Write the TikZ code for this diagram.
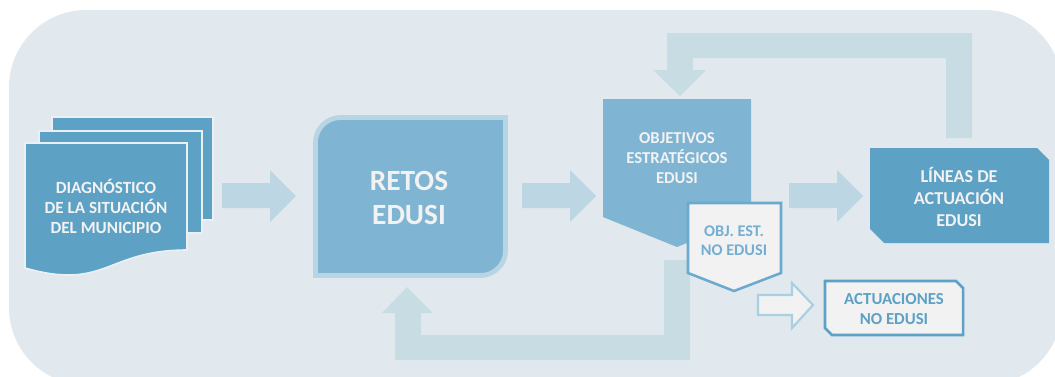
\documentclass[tikz,border=0pt]{standalone}
\usepackage{fontspec}
\setmainfont{Carlito}
\definecolor{bg}{HTML}{E1E9EE}
\definecolor{darkb}{HTML}{5DA1C5}
\definecolor{midb}{HTML}{7FB5D2}
\definecolor{midborder}{HTML}{B8D5E4}
\definecolor{arrowc}{HTML}{BCD6E3}
\definecolor{fbarrow}{HTML}{C8DCE4}
\definecolor{paper}{HTML}{F2F2F2}
\definecolor{txtw}{HTML}{F2F2F2}
\definecolor{lineb}{HTML}{6AAACE}
\definecolor{txtb}{HTML}{74AED2}
\definecolor{whitearrowline}{HTML}{A9CFE2}
\definecolor{sheetline}{HTML}{EAF0F3}
\tikzset{
  lbl/.style={font=\bfseries\fontsize{12.8}{15}\selectfont, text=txtw, align=center, inner sep=0pt},
  biglbl/.style={font=\bfseries\fontsize{22}{26}\selectfont, text=txtw, align=center, inner sep=0pt},
  bluelbl/.style={font=\bfseries\fontsize{12.2}{14}\selectfont, text=txtb, align=center, inner sep=0pt},
  fwd/.style={fill=arrowc},
  feedback/.style={fill=fbarrow},
  sheet/.style={fill=darkb, draw=sheetline, line width=1.2pt},
  whiteshape/.style={fill=paper, draw=lineb, line width=1.9pt, line join=miter},
}
\begin{document}
\begin{tikzpicture}[x=0.75pt,y=-0.75pt]
\useasboundingbox (0,0) rectangle (1055,376);
\fill[white] (0,0) rectangle (1055,376);
\begin{scope}
\clip (0,0) rectangle (1055,376);
\fill[bg, rounded corners=58] (9,10) rectangle (1062,385);
\end{scope}

% feedback arrows
\fill[feedback] (946,138) -- (946,58) -- (693,58) -- (693,70) -- (706,70) -- (680,96) -- (653,70) -- (667,70) -- (667,33) -- (972,33) -- (972,138) -- cycle;
\fill[feedback] (664,260) -- (690,260) -- (690,360) -- (395,360) -- (395,313) -- (382,313) -- (407,287) -- (433,313) -- (421,313) -- (421,335) -- (664,335) -- cycle;

% forward arrows
\fill[fwd] (222,183) -- (270,183) -- (270,170) -- (296,196) -- (270,222) -- (270,208) -- (222,208) -- cycle;
\fill[fwd] (522,183) -- (570,183) -- (570,170) -- (596,196) -- (570,222) -- (570,208) -- (522,208) -- cycle;
\fill[fwd] (789,183) -- (837,183) -- (837,170) -- (863,196) -- (837,222) -- (837,208) -- (789,208) -- cycle;

% diagnostico multi-document
\draw[sheet] (52,117) rectangle (213,220);
\draw[sheet] (39,131) rectangle (202,233);
\draw[sheet] (25,143) -- (187,143) -- (187,250) .. controls (106,250) and (106,291) .. (25,268) -- cycle;
\node[lbl] (diag) at (106,206) {DIAGNÓSTICO\\DE LA SITUACIÓN\\DEL MUNICIPIO};

% retos
\draw[fill=midb, draw=midborder, line width=3.6pt]
  (315.5,275.5) -- (315.5,142.5) .. controls (315.5,128.7) and (326.7,117.5) .. (340.5,117.5)
  -- (505.5,117.5) -- (505.5,250.5) .. controls (505.5,264.3) and (494.3,275.5) .. (480.5,275.5) -- cycle;
\node[biglbl] (retos) at (409,198) {RETOS\\EDUSI};

% objetivos
\fill[midb] (603,99) -- (751,99) -- (751,217) -- (677,247) -- (603,217) -- cycle;
\node[lbl, font=\bfseries\fontsize{12.5}{15}\selectfont] (obj) at (677,158) {OBJETIVOS\\ESTRATÉGICOS\\EDUSI};

% obj est no edusi
\draw[whiteshape] (688,203) -- (781,203) -- (781,273) -- (734,291) -- (688,273) -- cycle;
\node[bluelbl] (objno) at (734,241) {OBJ. EST.\\NO EDUSI};

% lineas
\fill[darkb] (870,148) -- (1037,148) -- (1049,160) -- (1049,243) -- (884,243) -- (870,229) -- cycle;
\node[lbl, font=\bfseries\fontsize{13.6}{16.5}\selectfont] (lineas) at (959,197) {LÍNEAS DE\\ACTUACIÓN\\EDUSI};

% white arrow
\draw[fill=paper, draw=whitearrowline, line width=1.6pt] (758,295) -- (792,295) -- (792,283) -- (813,305) -- (792,328) -- (792,315) -- (758,315) -- cycle;

% actuaciones
\draw[whiteshape, draw=darkb] (825,281) -- (956,281) -- (963,288) -- (963,335) -- (832,335) -- (825,328) -- cycle;
\node[bluelbl, text=darkb, font=\bfseries\fontsize{12.6}{15}\selectfont] (act) at (894,309) {ACTUACIONES\\NO EDUSI};
\end{tikzpicture}
\end{document}
